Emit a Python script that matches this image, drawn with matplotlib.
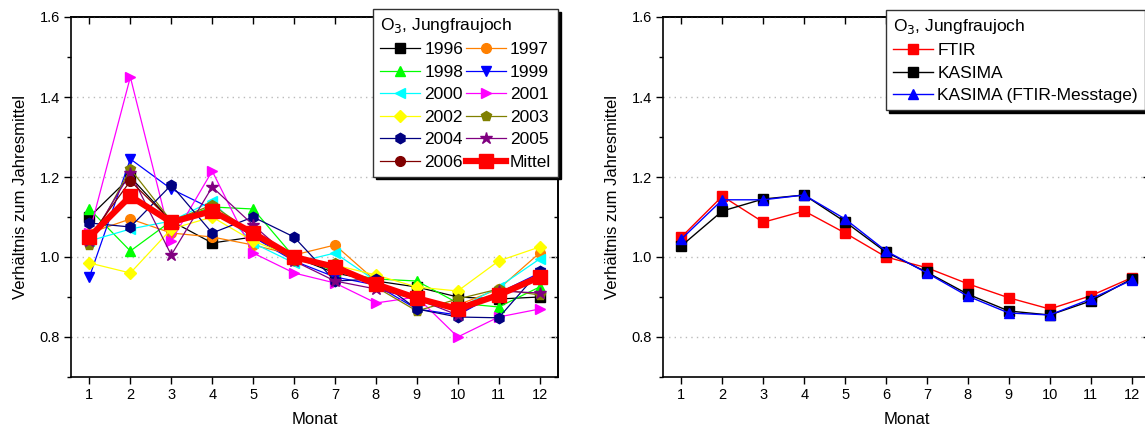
import matplotlib
matplotlib.use("Agg")
import matplotlib.pyplot as plt
from matplotlib.ticker import MultipleLocator

plt.rcParams['font.family'] = ['Liberation Sans', 'DejaVu Sans']

months = [1, 2, 3, 4, 5, 6, 7, 8, 9, 10, 11, 12]
years = ['1996', '1997', '1998', '1999', '2000', '2001', '2002', '2003',
         '2004', '2005', '2006']

y1996 = [1.100, 1.200, 1.090, 1.035, 1.050, 1.000, 0.960, 0.940, 0.925, 0.900, 0.895, 0.900]
y1997 = [1.060, 1.095, 1.060, 1.050, 1.030, 1.005, 1.030, 0.940, 0.890, 0.880, 0.920, 1.010]
y1998 = [1.120, 1.015, 1.090, 1.125, 1.120, 1.000, 0.965, 0.945, 0.940, 0.885, 0.875, 0.925]
y1999 = [0.950, 1.245, 1.170, 1.120, 1.050, 0.990, 0.950, 0.930, 0.870, 0.855, 0.910, 0.960]
y2000 = [1.040, 1.070, 1.090, 1.140, 1.035, 0.985, 1.010, 0.940, 0.890, 0.870, 0.925, 0.995]
y2001 = [1.060, 1.450, 1.040, 1.215, 1.010, 0.960, 0.935, 0.885, 0.900, 0.800, 0.850, 0.870]
y2002 = [0.985, 0.960, 1.070, 1.100, 1.040, 1.000, 0.980, 0.955, 0.925, 0.915, 0.990, 1.025]
y2003 = [1.030, 1.220, 1.090, 1.130, 1.060, 0.990, 0.985, 0.925, 0.865, 0.895, 0.920, 0.905]
y2004 = [1.085, 1.075, 1.180, 1.060, 1.100, 1.050, 0.940, 0.945, 0.870, 0.850, 0.848, 0.965]
y2005 = [1.040, 1.210, 1.005, 1.175, 1.080, 0.990, 0.940, 0.920, 0.895, 0.855, 0.915, 0.910]
y2006 = [1.050, 1.190, 1.090, 1.120, 1.060, 1.000, 0.975, 0.930, 0.900, 0.870, 0.910, 0.950]
mittel = [1.050, 1.152, 1.087, 1.115, 1.060, 1.000, 0.975, 0.932, 0.897, 0.870, 0.905, 0.950]

ftir = [1.050, 1.152, 1.087, 1.115, 1.060, 1.000, 0.973, 0.933, 0.898, 0.870, 0.903, 0.948]
kasima = [1.028, 1.115, 1.145, 1.155, 1.088, 1.012, 0.962, 0.907, 0.865, 0.855, 0.890, 0.945]
kasima_ftir = [1.045, 1.143, 1.143, 1.155, 1.095, 1.015, 0.960, 0.902, 0.860, 0.855, 0.895, 0.942]

year_data = [y1996, y1997, y1998, y1999, y2000, y2001, y2002, y2003, y2004, y2005, y2006]
year_colors = ['#000000', '#FF8000', '#00FF00', '#0000FF', '#00FFFF', '#FF00FF',
               '#FFFF00', '#808000', '#000080', '#800080', '#800000']
year_markers = ['s', 'o', '^', 'v', '<', '>', 'D', 'p', 'h', '*', 'o']
year_msizes = [6.5, 7, 7.5, 7.5, 7.5, 7.5, 6.5, 7.5, 7.5, 9, 7]

W, H = 1145, 432
fig = plt.figure(figsize=(W / 100, H / 100), dpi=100)

def px_axes(x0, x1, ytop, ybot):
    return fig.add_axes([x0 / W, 1 - ybot / H, (x1 - x0) / W, (ybot - ytop) / H])

ax1 = px_axes(71, 558, 17, 377)
ax2 = px_axes(663, 1150, 17, 377)

def style_axes(ax):
    ax.set_xlim(0.55, 12.45)
    ax.set_ylim(0.7, 1.6)
    ax.set_xticks(months)
    ax.yaxis.set_major_locator(MultipleLocator(0.2))
    ax.yaxis.set_minor_locator(MultipleLocator(0.1))
    ax.set_yticks([0.8, 1.0, 1.2, 1.4, 1.6])
    ax.yaxis.set_major_formatter(matplotlib.ticker.FormatStrFormatter('%.1f'))
    ax.tick_params(axis='both', which='major', direction='out', length=5, width=1,
                   labelsize=10.5, pad=3)
    ax.tick_params(axis='y', which='minor', direction='out', length=3, width=1)
    for s in ax.spines.values():
        s.set_linewidth(1.2)
    ax.grid(axis='y', which='major', linestyle=(0, (1, 3)), color='#BBBBBB', linewidth=1)
    ax.set_axisbelow(True)
    top = ax.secondary_xaxis('top')
    top.set_xticks(months)
    top.tick_params(direction='in', length=5, width=1, labeltop=False)
    top.spines['top'].set_linewidth(1.2)
    right = ax.secondary_yaxis('right')
    right.set_yticks([0.8, 1.0, 1.2, 1.4, 1.6])
    right.yaxis.set_minor_locator(MultipleLocator(0.1))
    right.tick_params(which='major', direction='in', length=5, width=1, labelright=False)
    right.tick_params(which='minor', direction='in', length=3, width=1)
    right.spines['right'].set_linewidth(1.2)
    ax.set_xlabel('Monat', fontsize=12, labelpad=7)
    ax.set_ylabel('Verhältnis zum Jahresmittel', fontsize=12, labelpad=8)

style_axes(ax1)
style_axes(ax2)

handles = {}
for name, data, c, m, ms in zip(years, year_data, year_colors, year_markers, year_msizes):
    h, = ax1.plot(months, data, color=c, marker=m, markersize=ms, linewidth=0.9,
                  markeredgecolor=c, label=name)
    handles[name] = h
hm, = ax1.plot(months, mittel, color='#FF0000', marker='s', markersize=9.5,
               linewidth=4.5, label='Mittel', zorder=5)
handles['Mittel'] = hm

order = ['1996', '1998', '2000', '2002', '2004', '2006',
         '1997', '1999', '2001', '2003', '2005', 'Mittel']
leg_kw = dict(title='O$_3$, Jungfraujoch', title_fontsize=12.5, fontsize=12.5,
              loc='upper left', bbox_transform=fig.transFigure, frameon=True,
              fancybox=False, shadow={'color': 'black', 'alpha': 1}, framealpha=1,
              edgecolor='#333333', handlelength=2.3, handletextpad=0.25,
              labelspacing=0.42, borderpad=0.4, borderaxespad=0)
leg1 = ax1.legend([handles[k] for k in order], order, ncol=2, columnspacing=0.15,
                  bbox_to_anchor=(373 / W, 1 - 9 / H), **leg_kw)
leg1._legend_box.align = 'left'
leg1.get_frame().set_linewidth(1)

ax2.plot(months, ftir, color='#FF0000', marker='s', markersize=7, linewidth=1,
         label='FTIR')
ax2.plot(months, kasima, color='#000000', marker='s', markersize=7, linewidth=1,
         label='KASIMA')
ax2.plot(months, kasima_ftir, color='#0000FF', marker='^', markersize=7.5, linewidth=1,
         label='KASIMA (FTIR-Messtage)')
leg2 = ax2.legend(bbox_to_anchor=(886 / W, 1 - 10 / H), **leg_kw)
leg2._legend_box.align = 'left'
leg2.get_frame().set_linewidth(1)

fig.savefig('out.png', dpi=100)
